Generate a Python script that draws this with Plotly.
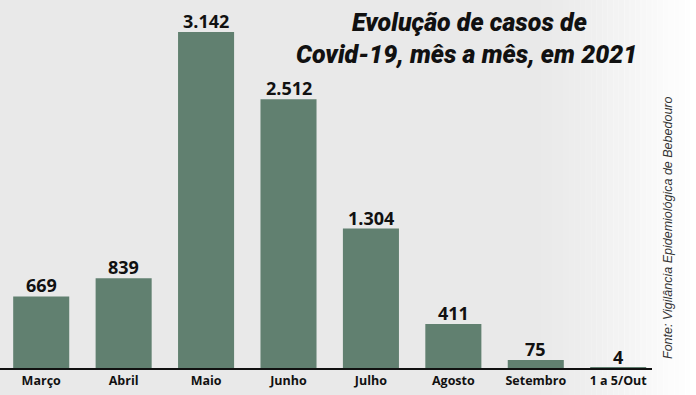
import plotly.graph_objects as go

months = ["Março", "Abril", "Maio", "Junho", "Julho", "Agosto", "Setembro", "1 a 5/Out"]
cases = [669, 839, 3142, 2512, 1304, 411, 75, 4]
title_lines = ["Evolução de casos de", "Covid-19, mês a mês, em 2021"]
source = "Fonte: Vigilância Epidemiológica de Bebedouro"

W, H = 696, 395
L, R, T, B = 0, 44, 32, 27
PW = W - L - R
PH = H - T - B

def px(x):
    return (x - L) / PW

def py(y):
    return (H - B - y) / PH

labels = [f"<b>{v:,}</b>".replace(",", ".") for v in cases]
ticks = [f"<b>{m}</b>" for m in months]

fig = go.Figure()
fig.add_trace(go.Bar(
    x=months, y=cases,
    marker=dict(color="#618070", line=dict(width=0)),
    hoverinfo="skip",
))

shapes = []
n = 30
for i in range(n):
    x0 = 530 + i * (W - 530) / n
    x1 = 530 + (i + 1) * (W - 530) / n
    shapes.append(dict(type="rect", xref="paper", yref="paper",
                       x0=px(x0), x1=px(x1 + 0.5), y0=py(H + 2), y1=py(-2),
                       fillcolor="white", opacity=((i + 1) / n) ** 1.3,
                       line=dict(width=0), layer="below"))

annotations = []
for m, v, t in zip(months, cases, labels):
    annotations.append(dict(text=t, x=m, y=v, xref="x", yref="y",
                            yanchor="bottom", xanchor="center", showarrow=False,
                            yshift=-3, font=dict(family="Open Sans", size=18, color="#111111")))

tfont = dict(family="Roboto", size=25, color="#111111", weight=900, style="italic")
annotations += [
    dict(text=title_lines[0], xref="paper", yref="paper", x=px(589), y=py(22),
         xanchor="right", yanchor="middle", showarrow=False, font=tfont),
    dict(text=title_lines[1], xref="paper", yref="paper", x=px(639), y=py(55),
         xanchor="right", yanchor="middle", showarrow=False, font=tfont),
    dict(text=f"<i>{source}</i>", xref="paper", yref="paper", x=px(668), y=py(228),
         xanchor="center", yanchor="middle", textangle=-90, showarrow=False,
         font=dict(family="Liberation Sans", size=12.5, color="#333333")),
]

fig.update_layout(
    width=W, height=H,
    margin=dict(l=L, r=R, t=T, b=B, pad=0, autoexpand=False),
    paper_bgcolor="#e9e9e9", plot_bgcolor="rgba(0,0,0,0)",
    bargap=0.32, showlegend=False,
    shapes=shapes, annotations=annotations,
    xaxis=dict(showline=True, linecolor="#111111", linewidth=2, ticks="",
               showgrid=False, range=[-0.5, 7.41], automargin=False,
               tickmode="array", tickvals=months, ticktext=ticks,
               tickfont=dict(family="Open Sans", size=12.5, color="#111111")),
    yaxis=dict(visible=False, range=[0, max(cases)], showgrid=False, automargin=False),
)

fig.write_html("out.html", config={"displayModeBar": False},
               post_script="document.body.style.margin='0';document.body.style.overflow='hidden';")
